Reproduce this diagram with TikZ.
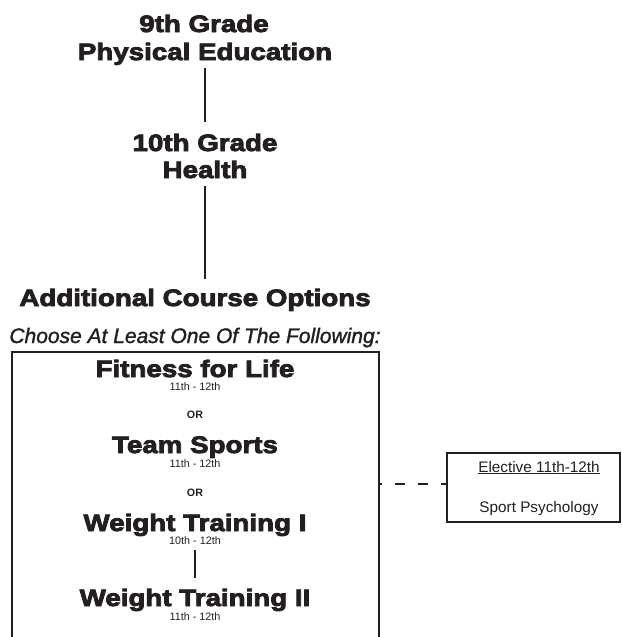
\documentclass[tikz,border=0pt]{standalone}
\usepackage{fontspec}
\setmainfont{Liberation Sans}
\newfontfamily\blk{Liberation Sans Bold}[FakeStretch=1.17,FakeBold=3.5]
\newfontfamily\bldf{Liberation Sans Bold}
\newfontfamily\itl{Liberation Sans Italic}[FakeBold=1.4]
\definecolor{ink}{RGB}{35,31,32}
\begin{document}
\begin{tikzpicture}[x=1pt,y=-1pt,
  every node/.style={inner sep=0pt,outer sep=0pt,text=ink},
  title/.style={anchor=base,font=\blk\fontsize{23.7}{26}\selectfont},
  years/.style={anchor=base,font=\fontsize{10.8}{12}\selectfont},
  ortext/.style={anchor=base,font=\bldf\fontsize{10.7}{12}\selectfont},
  link/.style={draw=ink,line width=1.2pt},
  frame/.style={draw=ink,line width=1.4pt}]
\useasboundingbox (0,0) rectangle (621,637);
\clip (0,0) rectangle (621,637);
% top titles
\node[title] (g9a) at (204,32) {9th Grade};
\node[title] (g9b) at (205,60) {Physical Education};
\node[title] (g10a) at (205,151) {10th Grade};
\node[title] (g10b) at (205,178) {Health};
\node[title] (addl) at (195,306) {Additional Course Options};
\node[anchor=base,font=\itl\fontsize{21}{24}\selectfont] (choose) at (195,343) {Choose At Least One Of The Following:};
\draw[link,shorten <=3pt,shorten >=12pt] (g9b.south) -- (g10a.north);
\draw[link,shorten <=8pt,shorten >=10pt] (g10b.south) -- (g10b.south |- addl.north);
% main box
\node[frame,anchor=north west,minimum width=367pt,minimum height=300pt] (mainbox) at (12,352) {};
\node[title] (fit) at (195,377) {Fitness for Life};
\node[years] (fity) at (195,390) {11th - 12th};
\node[ortext] (or1) at (195,418) {OR};
\node[title] (ts) at (195,453) {Team Sports};
\node[years] (tsy) at (195,467) {11th - 12th};
\node[ortext] (or2) at (195,496) {OR};
\node[title] (wt1) at (195,531) {Weight Training I};
\node[years] (wt1y) at (195,544) {10th - 12th};
\node[title] (wt2) at (195,606) {Weight Training II};
\node[years] (wt2y) at (195,620) {11th - 12th};
\draw[link,shorten <=6pt,shorten >=10.5pt] (wt1y.south) -- (wt2.north);
% elective box
\node[draw=ink,line width=1.1pt,minimum width=173pt,minimum height=69pt] (elec) at (533.5,487.5) {};
\node[anchor=base,font=\fontsize{15.3}{17}\selectfont] (e1) at (539,472) {\underline{Elective 11th-12th}};
\node[anchor=base,font=\fontsize{15.3}{17}\selectfont] (e2) at (539,512) {Sport Psychology};
\draw[draw=ink,line width=1.1pt,dash pattern=on 10pt off 13pt,dash phase=4pt]
  ([yshift=3.5pt]elec.west) -- ([yshift=3.5pt]elec.west -| mainbox.east);
\end{tikzpicture}
\end{document}
